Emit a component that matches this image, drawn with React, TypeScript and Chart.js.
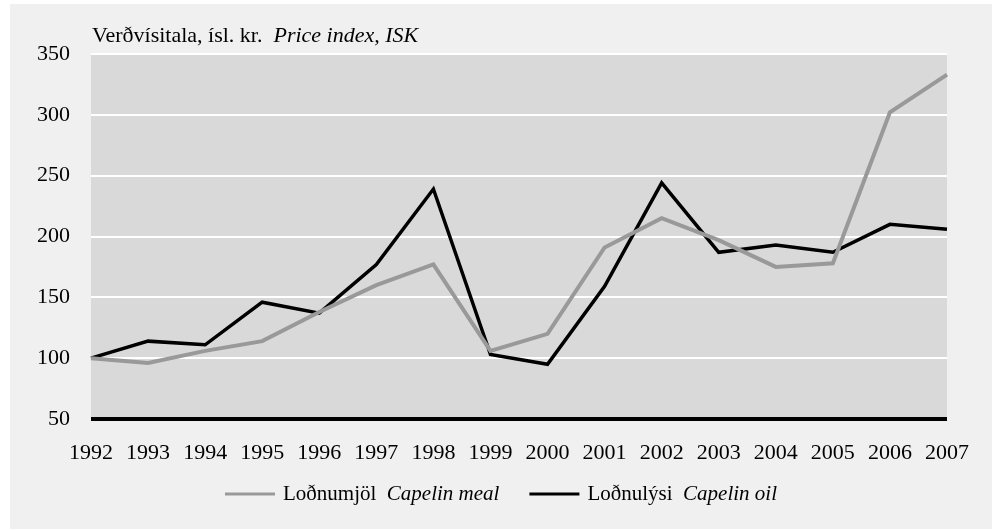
import React, { useEffect, useRef } from "react";
import { Chart, registerables } from "chart.js";

Chart.register(...registerables);

const years = ["1992","1993","1994","1995","1996","1997","1998","1999","2000","2001","2002","2003","2004","2005","2006","2007"];
const capelinMeal = [100, 96, 106, 114, 138, 160, 177, 106, 120, 191, 215, 197, 175, 178, 302, 333];
const capelinOil = [100, 114, 111, 146, 137, 177, 239, 103, 95, 159, 244, 187, 193, 187, 210, 206];
const mealLabel = ["Loðnumjöl", "Capelin meal"];
const oilLabel = ["Loðnulýsi", "Capelin oil"];
const titleParts = ["Verðvísitala, ísl. kr.", "Price index, ISK"];
const yMin = 50;
const yMax = 350;
const yStep = 50;

const FONT = "'Liberation Serif', 'Times New Roman', serif";

const plotBg = {
  id: "plotBg",
  beforeDraw(chart: any) {
    const { ctx, chartArea } = chart;
    ctx.save();
    ctx.fillStyle = "#d9d9d9";
    ctx.fillRect(chartArea.left, chartArea.top, chartArea.right - chartArea.left, chartArea.bottom - chartArea.top);
    ctx.restore();
  },
};

const texts = {
  id: "texts",
  afterDraw(chart: any) {
    const { ctx, chartArea, width } = chart;
    ctx.save();
    ctx.fillStyle = "#000";
    ctx.textBaseline = "alphabetic";
    ctx.textAlign = "left";
    // title
    let x = chartArea.left + 1;
    const ty = 38;
    ctx.font = `22px ${FONT}`;
    ctx.fillText(titleParts[0], x, ty);
    x += ctx.measureText(titleParts[0] + "  ").width;
    ctx.font = `italic 22px ${FONT}`;
    ctx.fillText(titleParts[1], x, ty);

    // legend
    const fs = 21;
    const items = chart.data.datasets.map((ds: any, i: number) => ({
      color: ds.borderColor,
      parts: i === 0 ? mealLabel : oilLabel,
    }));
    const lineW = 50;
    const gapLine = 8;
    const gapItem = 30;
    const widths = items.map((it: any) => {
      ctx.font = `${fs}px ${FONT}`;
      const a = ctx.measureText(it.parts[0] + "  ").width;
      ctx.font = `italic ${fs}px ${FONT}`;
      const b = ctx.measureText(it.parts[1]).width;
      return { a, b, total: lineW + gapLine + a + b };
    });
    const total = widths.reduce((s: number, w: any) => s + w.total, 0) + gapItem * (items.length - 1);
    let lx = (width - total) / 2;
    const ly = 490;
    items.forEach((it: any, i: number) => {
      ctx.strokeStyle = it.color;
      ctx.lineWidth = 3;
      ctx.beginPath();
      ctx.moveTo(lx, ly);
      ctx.lineTo(lx + lineW, ly);
      ctx.stroke();
      let tx = lx + lineW + gapLine;
      ctx.textBaseline = "middle";
      ctx.font = `${fs}px ${FONT}`;
      ctx.fillText(it.parts[0], tx, ly);
      tx += widths[i].a;
      ctx.font = `italic ${fs}px ${FONT}`;
      ctx.fillText(it.parts[1], tx, ly);
      lx += widths[i].total + gapItem;
    });
    ctx.restore();
  },
};

export default function App() {
  const ref = useRef<HTMLCanvasElement>(null);
  useEffect(() => {
    if (!ref.current) return;
    const chart = new Chart(ref.current, {
      type: "line",
      data: {
        labels: years,
        datasets: [
          {
            label: mealLabel.join(" "),
            data: capelinMeal,
            borderColor: "#999999",
            backgroundColor: "#999999",
            borderWidth: 4,
            pointRadius: 0,
            tension: 0,
          },
          {
            label: oilLabel.join(" "),
            data: capelinOil,
            borderColor: "#000000",
            backgroundColor: "#000000",
            borderWidth: 3.5,
            pointRadius: 0,
            tension: 0,
          },
        ],
      },
      options: {
        animation: false,
        responsive: false,
        maintainAspectRatio: false,
        layout: { padding: { top: 50, right: 45, left: 0, bottom: 0 } },
        plugins: { legend: { display: false }, tooltip: { enabled: false }, title: { display: false } },
        scales: {
          x: {
            offset: false,
            grid: { display: false, drawTicks: false },
            border: { display: false },
            ticks: {
              color: "#000",
              font: { family: FONT, size: 22 },
              padding: 21,
              maxRotation: 0,
              autoSkip: false,
            },
            afterFit(scale: any) {
              scale.height = 110;
            },
          },
          y: {
            min: yMin,
            max: yMax,
            grid: {
              drawTicks: false,
              color: (c: any) => (c.tick && c.tick.value === yMin ? "#000" : "#ffffff"),
              lineWidth: (c: any) => (c.tick && c.tick.value === yMin ? 4 : 2),
            },
            border: { display: false },
            ticks: {
              stepSize: yStep,
              color: "#000",
              font: { family: FONT, size: 22 },
              padding: 21,
            },
            afterFit(scale: any) {
              scale.width = 81;
            },
          },
        },
      },
      plugins: [plotBg, texts],
    });
    return () => chart.destroy();
  }, []);
  return (
    <div style={{ position: "absolute", left: 10, top: 4, width: 982, height: 525, background: "#f0f0f0" }}>
      <canvas ref={ref} width={982} height={525} style={{ display: "block" }} />
    </div>
  );
}
